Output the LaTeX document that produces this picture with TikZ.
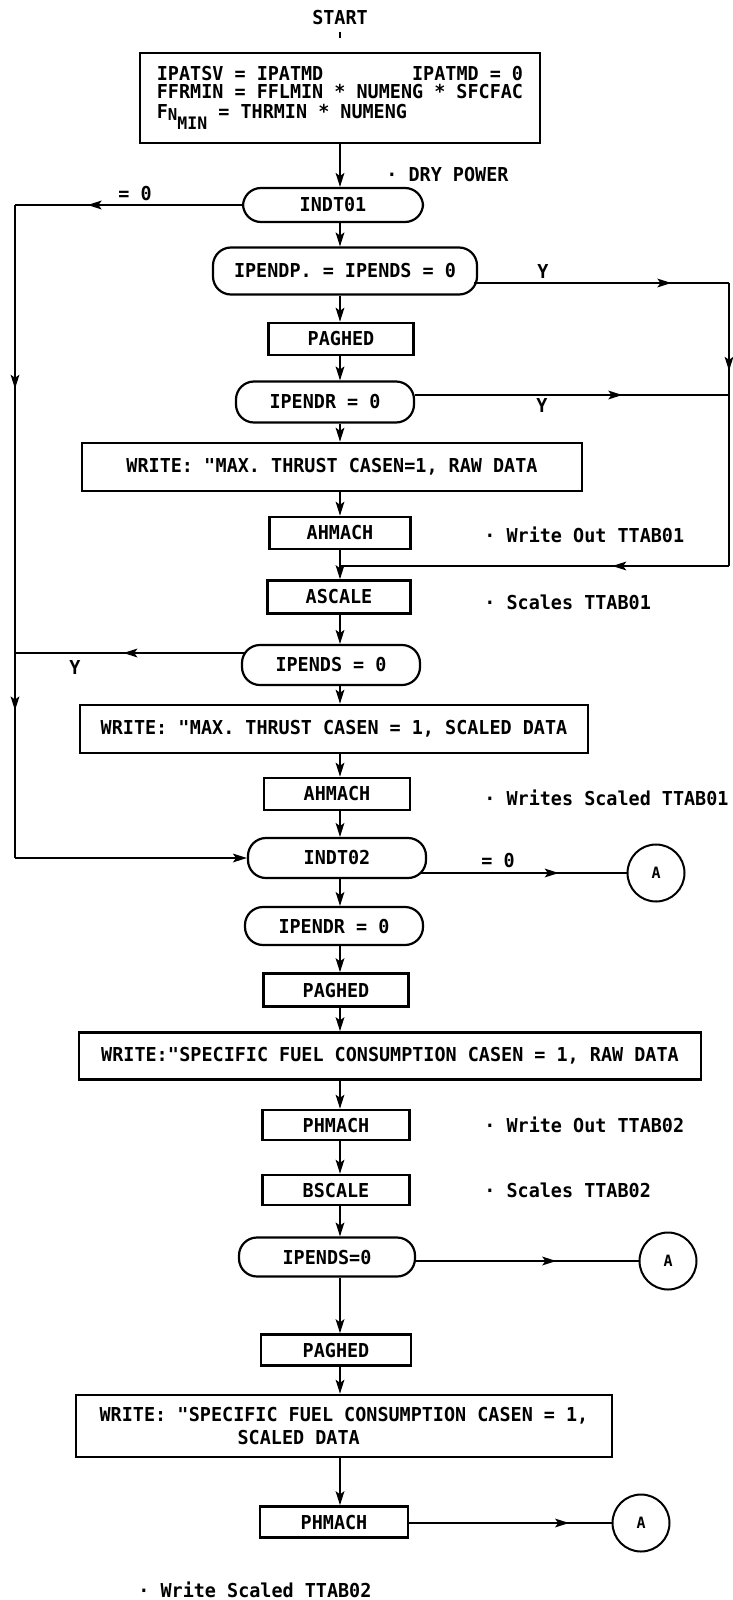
\documentclass[tikz,border=0pt]{standalone}
\usepackage{fontspec}
\setmainfont{DejaVu Sans Mono}[FakeStretch=0.96]
\usetikzlibrary{positioning, arrows.meta, calc, decorations.markings}

\begin{document}
\begin{tikzpicture}[x=0.5pt, y=-0.5pt, >={Stealth[length=7pt,width=4.4pt,inset=1.6pt]},
  every node/.style={font=\fontsize{9.6}{10}\selectfont\bfseries, inner sep=0pt},
  proc/.style={draw, line width=1.35pt},
  term/.style={draw, line width=1.1pt, rounded corners=9pt},
  conn/.style={draw, circle, line width=1pt, minimum size=28.5pt, font=\fontsize{7.8}{8}\selectfont\bfseries},
  note/.style={anchor=west},
  line/.style={line width=0.75pt},
  arrowat/.style={postaction={decorate}, decoration={markings,
    mark=at position #1 with {\arrow{Stealth[length=7pt,width=4.4pt,inset=1.6pt]}}}}]
  \useasboundingbox (0,0) rectangle (733,1600);

  \node (start) at (340,18) {START};
  \node[proc, minimum width=200pt, minimum height=45pt, align=left,
        font=\fontsize{9.6}{8.6}\selectfont\bfseries] (init) at (340,98)
    {IPATSV = IPATMD~~~~~~~~IPATMD = 0\\
     FFRMIN = FFLMIN * NUMENG * SFCFAC\\[1.5pt]
     F\raisebox{-1pt}{\fontsize{8.2}{8}\selectfont N}\raisebox{-5.5pt}{\fontsize{8.6}{8}\selectfont MIN} = THRMIN * NUMENG};
  \node[term, minimum width=90pt, minimum height=17pt] (indtA) at (333,205) {INDT01};
  \node[term, minimum width=132pt, minimum height=23.5pt] (ipendp) at (345,271) {IPENDP. = IPENDS = 0};
  \node[proc, minimum width=72.5pt, minimum height=16pt] (pagA) at (341,339) {PAGHED};
  \node[term, minimum width=89pt, minimum height=20.5pt] (ipendrA) at (325,402) {IPENDR = 0};
  \node[proc, minimum width=250pt, minimum height=24pt] (rawA) at (332,467) {WRITE: \textquotedbl MAX. THRUST CASEN=1, RAW DATA};
  \node[proc, minimum width=70.5pt, minimum height=16pt] (ahA) at (340,533) {AHMACH};
  \node[proc, minimum width=71.5pt, minimum height=16.5pt] (ascale) at (339,597) {ASCALE};
  \node[term, minimum width=89pt, minimum height=20pt] (ipendsA) at (331,665) {IPENDS = 0};
  \node[proc, minimum width=254pt, minimum height=24pt] (scaA) at (334,729) {WRITE: \textquotedbl MAX. THRUST CASEN = 1, SCALED DATA};
  \node[proc, minimum width=73pt, minimum height=16pt] (ahB) at (337,794) {AHMACH};
  \node[term, minimum width=89pt, minimum height=20pt] (indtB) at (337,858) {INDT02};
  \node[term, minimum width=89pt, minimum height=19pt] (ipendrB) at (334,926) {IPENDR = 0};
  \node[proc, minimum width=72.5pt, minimum height=16.5pt] (pagB) at (336,990) {PAGHED};
  \node[proc, minimum width=311pt, minimum height=23.5pt] (rawB) at (390,1056) {WRITE:\textquotedbl SPECIFIC FUEL CONSUMPTION CASEN = 1, RAW DATA};
  \node[proc, minimum width=73.5pt, minimum height=15pt] (phA) at (336,1125) {PHMACH};
  \node[proc, minimum width=73.5pt, minimum height=15pt] (bscale) at (336,1190) {BSCALE};
  \node[term, minimum width=88pt, minimum height=19.5pt] (ipendsB) at (327,1257) {IPENDS=0};
  \node[proc, minimum width=75pt, minimum height=15.5pt] (pagC) at (336,1350) {PAGHED};
  \node[proc, minimum width=268pt, minimum height=31pt, align=left,
        font=\fontsize{9.6}{11.5}\selectfont\bfseries] (scaB) at (344,1426)
    {WRITE: \textquotedbl SPECIFIC FUEL CONSUMPTION CASEN = 1,\\ \hspace*{69pt}SCALED DATA};
  \node[proc, minimum width=74pt, minimum height=15.5pt] (phB) at (334,1522) {PHMACH};

  % connectors A
  \node[conn] (aA) at (656,873) {A};
  \node[conn] (aB) at (668,1261) {A};
  \node[conn] (aC) at (641,1523) {A};

  % comments
  \node[note] (dry) at (386,175) {· DRY POWER};
  \node[note] (nA) at (484,535) {· Write Out TTAB01};
  \node[note] (nB) at (484,602) {· Scales TTAB01};
  \node[note] (nC) at (484,798) {· Writes Scaled TTAB01};
  \node[note] (nD) at (484,1125) {· Write Out TTAB02};
  \node[note] (nE) at (484,1190) {· Scales TTAB02};
  \node[note] (nF) at (138,1590) {· Write Scaled TTAB02};

  % branch labels
  \node (eqA) at (135,194) {= 0};
  \node (yA) at (543,271) {Y};
  \node (yB) at (542,405) {Y};
  \node (yC) at (75,667) {Y};
  \node (eqB) at (498,860) {= 0};

  \coordinate (sp) at (340,0);
  \coordinate (cTL) at (15,205);
  \coordinate (cML) at (15,653);
  \coordinate (cBL) at (15,858);
  \coordinate (cTR) at (729,283);
  \coordinate (cMR) at (729,395);
  \coordinate (cBR) at (729,566);
  \coordinate (cJ) at (340,566);

  % main line
  \draw[line] ($(start.south)+(0,6)$) -- ++(0,6);
  \draw[line, ->] (init.south -| sp) -- (indtA.north -| sp);
  \draw[line, ->] (indtA.south -| sp) -- (ipendp.north -| sp);
  \draw[line, ->] (ipendp.south -| sp) -- (pagA.north -| sp);
  \draw[line, ->] (pagA.south -| sp) -- (ipendrA.north -| sp);
  \draw[line, ->] (ipendrA.south -| sp) -- (rawA.north -| sp);
  \draw[line, ->] (rawA.south -| sp) -- (ahA.north -| sp);
  \draw[line, ->] (ahA.south -| sp) -- (ascale.north -| sp);
  \draw[line, ->] (ascale.south -| sp) -- (ipendsA.north -| sp);
  \draw[line, ->] (ipendsA.south -| sp) -- (scaA.north -| sp);
  \draw[line, ->] (scaA.south -| sp) -- (ahB.north -| sp);
  \draw[line, ->] (ahB.south -| sp) -- (indtB.north -| sp);
  \draw[line, ->] (indtB.south -| sp) -- (ipendrB.north -| sp);
  \draw[line, ->] (ipendrB.south -| sp) -- (pagB.north -| sp);
  \draw[line, ->] (pagB.south -| sp) -- (rawB.north -| sp);
  \draw[line, ->] (rawB.south -| sp) -- (phA.north -| sp);
  \draw[line, ->] (phA.south -| sp) -- (bscale.north -| sp);
  \draw[line, ->] (bscale.south -| sp) -- (ipendsB.north -| sp);
  \draw[line, ->] (ipendsB.south -| sp) -- (pagC.north -| sp);
  \draw[line, ->] (pagC.south -| sp) -- (scaB.north -| sp);
  \draw[line, ->] (scaB.south -| sp) -- (phB.north -| sp);

  % left loop
  \draw[line, arrowat=0.68] (indtA.west) -- (cTL);
  \draw[line, arrowat=0.41] (cTL) -- (cML);
  \draw[line, arrowat=0.28] (cML) -- (cBL);
  \draw[line, ->] (cBL) -- (indtB.west);
  \draw[line, arrowat=0.52, shorten <=-1.5pt] (ipendsA.west |- cML) -- (cML);

  % right loop
  \draw[line, arrowat=0.77, shorten <=-2pt] (ipendp.east |- cTR) -- (cTR);
  \draw[line, arrowat=0.66] (ipendrA.east |- cMR) -- (cMR);
  \draw[line, arrowat=0.31] (cTR) -- (cBR);
  \draw[line, arrowat=0.3] (cBR) -- (cJ);

  % exits to A
  \draw[line, arrowat=0.66, shorten <=-3pt] (indtB.east |- aA) -- (aA);
  \draw[line, arrowat=0.63] (ipendsB.east |- aB) -- (aB);
  \draw[line, arrowat=0.79] (phB.east |- aC) -- (aC);
\end{tikzpicture}
\end{document}
